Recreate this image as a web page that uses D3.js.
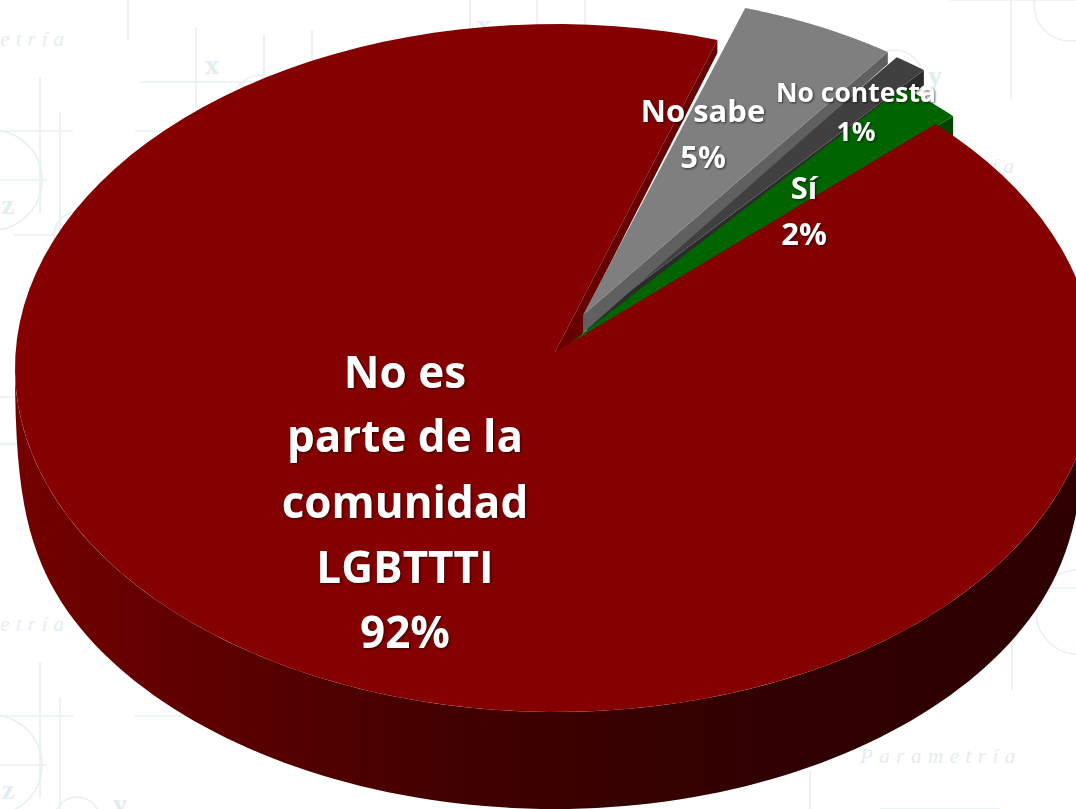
<!DOCTYPE html>
<html><head><meta charset="utf-8">
<script src="https://cdn.jsdelivr.net/npm/d3@7"></script>
<style>
html,body{margin:0;padding:0;background:#fff;overflow:hidden}
svg{display:block}
.lab{font-family:"Open Sans",Lato,sans-serif;font-weight:700;fill:#fff;text-anchor:middle;filter:drop-shadow(1.5px 1.5px 1.2px rgba(0,0,0,.6))}
.wm{fill:none;stroke:#e7f0f3;stroke-width:1.6}
.wmt{font-family:"Liberation Serif",serif;fill:#e3edf1}
</style></head><body>
<svg id="c" width="1076" height="809"></svg>
<script>
// Data, clockwise from the cut at the upper right
const categories = ["No es parte de la comunidad LGBTTTI", "No sabe", "No contesta", "Sí"];
const values = [92, 5, 1, 2];
const labelLines = [["No es","parte de la","comunidad","LGBTTTI","92%"],["No sabe","5%"],["No contesta","1%"],["Sí","2%"]];
const faceColors = ["#850000","#7f7f7f","#404040","#006400"];
const cutColors = ["#660000","#606060","#2b2b2b","#004400"];
// geometry of the exploded perspective slices
const rimCx = [555,597,587,566], rimCy = [368,315,339,356];
const rimRx = [540,507,540,540], rimRy = [344,321,344,344];
const trimStart = [-1,0,0,0], trimEnd = [0.5,0,0,0];
const apexX = [555,583,587,570], apexY = [352,315,323,343];
const cutRim = [13,12,15,22], cutApex = [20,18,16,6];
const labelX = [405,703,856,804];
const labelY = [[388,452,518,583,648],[122,168],[102,141],[199,245]];
const labelSize = [44,31,26.5,31];

const frontDepth = 97, startDeg = 45.8;
const rad = d => d*Math.PI/180;
const svg = d3.select("#c");

// Watermark
const wmLinesTile = [[128,0,128,40],[196,27,196,110],[264,35,264,110],[140,82,300,82],[135,131,270,131],[40,77,40,213],[60,112,60,242],[0,131,73,131],[0,180,47,180],[14,235,100,235]];
const wmCirclesTile = [[-8,180,50],[77,235,23],[262,105,30]];
const wmLines = [[470,0,470,30],[537,0,537,30],[585,0,585,30],[312,30,312,60],[1011,0,1011,100],[950,0,1076,0],[1012,640,1012,690],[1040,588,1076,588],[810,770,810,809],[880,809,1000,809],[0,397,18,397],[0,444,18,444]];
const wmCircles = [[1070,5,36],[895,77,27],[1078,612,42]];
const wmTiles = [0,585];
const wmG = svg.append("g");
wmTiles.forEach(dy=>{
  wmLinesTile.forEach(l=>wmG.append("line").attr("class","wm").attr("x1",l[0]).attr("y1",l[1]+dy).attr("x2",l[2]).attr("y2",l[3]+dy));
  wmCirclesTile.forEach(c=>wmG.append("circle").attr("class","wm").attr("cx",c[0]).attr("cy",c[1]+dy).attr("r",c[2]));
  wmG.append("text").attr("class","wmt").attr("x",70).attr("y",46+dy).attr("text-anchor","end").attr("font-style","italic").attr("font-size",21).attr("letter-spacing",6).text("etría");
  wmG.append("text").attr("class","wmt").attr("x",212).attr("y",74+dy).attr("text-anchor","middle").attr("font-weight","bold").attr("font-size",28).text("x");
  wmG.append("text").attr("class","wmt").attr("x",8).attr("y",214+dy).attr("text-anchor","middle").attr("font-weight","bold").attr("font-size",28).text("z");
  wmG.append("text").attr("class","wmt").attr("x",120).attr("y",228+dy).attr("text-anchor","middle").attr("font-weight","bold").attr("font-size",28).text("y");
});
wmLines.forEach(l=>wmG.append("line").attr("class","wm").attr("x1",l[0]).attr("y1",l[1]).attr("x2",l[2]).attr("y2",l[3]));
wmCircles.forEach(c=>wmG.append("circle").attr("class","wm").attr("cx",c[0]).attr("cy",c[1]).attr("r",c[2]));
wmG.append("text").attr("class","wmt").attr("x",935).attr("y",85).attr("text-anchor","middle").attr("font-weight","bold").attr("font-size",28).text("y");
wmG.append("text").attr("class","wmt").attr("x",484).attr("y",34).attr("text-anchor","middle").attr("font-weight","bold").attr("font-size",28).text("x");
wmG.append("text").attr("class","wmt").attr("x",860).attr("y",763).attr("font-style","italic").attr("font-size",21).attr("letter-spacing",6.5).text("Parametría");
wmG.append("text").attr("class","wmt").attr("x",1020).attr("y",173).attr("text-anchor","end").attr("font-style","italic").attr("font-size",21).attr("letter-spacing",6).text("ría");

// Pie layout
const pie = d3.pie().sort(null).value(d=>d).startAngle(rad(startDeg)).endAngle(rad(startDeg)+2*Math.PI);
const arcs = pie(values);
const rim = (i,t)=>[rimCx[i]+rimRx[i]*Math.sin(t), rimCy[i]-rimRy[i]*Math.cos(t)];
const line = d3.line();
const sampled = (a,b)=>d3.range(0,121).map(k=>a+(b-a)*k/120);
const startOf = i=>arcs[i].startAngle+rad(trimStart[i]);
const endOf = i=>arcs[i].endAngle+rad(trimEnd[i]);

const defs = svg.append("defs");
const grad = defs.append("linearGradient").attr("id","wall").attr("gradientUnits","userSpaceOnUse").attr("x1",0).attr("x2",1076).attr("y1",0).attr("y2",0);
[[0,"#760000"],[.12,"#660000"],[.25,"#560000"],[.42,"#420000"],[.6,"#360000"],[.75,"#300000"],[1,"#2e0000"]].forEach(s=>grad.append("stop").attr("offset",s[0]).attr("stop-color",s[1]));

// Outer wall of the main slice
const lower = t=>{
  const p = rim(0,t), c = Math.max(0,-Math.cos(t));
  const x = p[0]>rimCx[0] ? rimCx[0]+(p[0]-rimCx[0])*0.985 : p[0];
  return [x, p[1]+frontDepth*(1-Math.pow(1-c,7))];
};
const sweep = sampled(rad(90),rad(270));
svg.append("path").attr("fill","url(#wall)")
  .attr("d", line(sweep.map(t=>rim(0,t)).concat(sweep.slice().reverse().map(lower)))+"Z");

// Cut faces and top faces
function cutFace(i,t){
  const p = rim(i,t);
  const pts = [[apexX[i],apexY[i]],p,[p[0],p[1]+cutRim[i]]];
  if(i===0){ pts.push([apexX[1],apexY[1]+2],[apexX[1],apexY[1]+cutApex[1]],[apexX[3],apexY[3]+cutApex[3]]); }
  else pts.push([apexX[i],apexY[i]+cutApex[i]]);
  return line(pts)+"Z";
}
function face(i,a,b){
  return line([[apexX[i],apexY[i]]].concat(sampled(a,b).map(t=>rim(i,t))))+"Z";
}
svg.append("path").attr("fill",cutColors[0]).attr("d",cutFace(0,endOf(0)));
[2,1,3].forEach(i=>{
  svg.append("path").attr("fill",cutColors[i]).attr("d",cutFace(i,endOf(i)));
  svg.append("path").attr("fill",faceColors[i]).attr("d",face(i,startOf(i),endOf(i)));
});
svg.append("path").attr("fill",faceColors[0]).attr("d",face(0,startOf(0),endOf(0)));

// Labels
labelLines.forEach((lines,i)=>{
  const t = svg.append("text").attr("class","lab").attr("font-size",labelSize[i]);
  lines.forEach((s,j)=>t.append("tspan").attr("x",labelX[i]).attr("y",labelY[i][j]).text(s));
});
</script></body></html>
